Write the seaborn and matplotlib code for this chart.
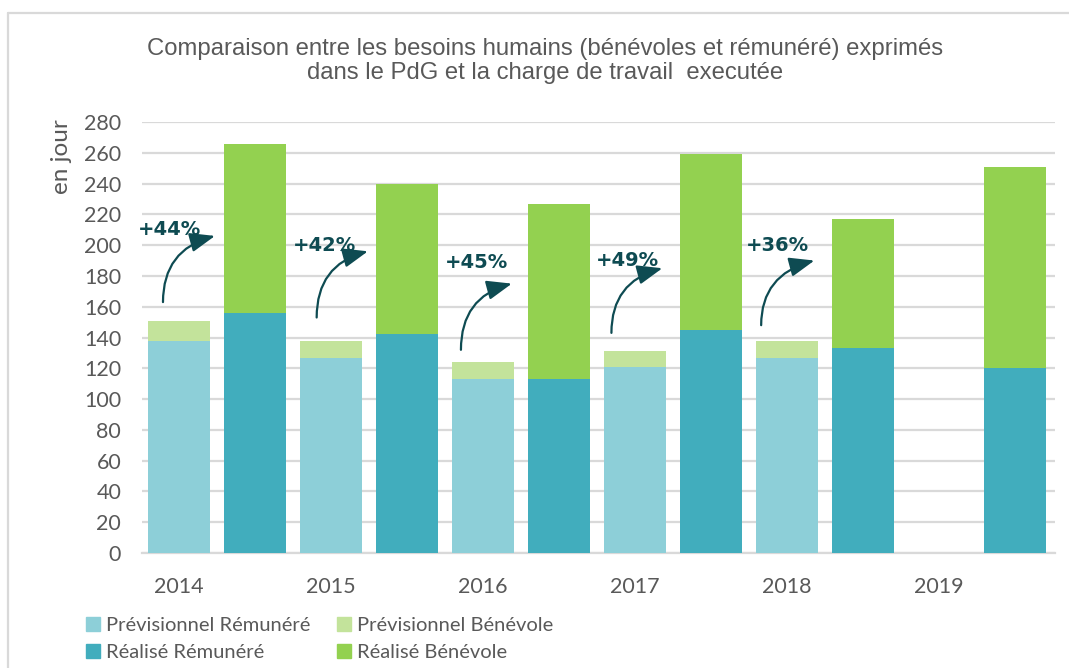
import seaborn as sns
import matplotlib.pyplot as plt
from matplotlib.lines import Line2D
from matplotlib.patches import Patch
import numpy as np

years = ["2014", "2015", "2016", "2017", "2018", "2019"]
prev_remunere = [138, 127, 113, 121, 127]
prev_benevole = [13, 11, 11, 10, 11]
real_remunere = [156, 142, 113, 145, 133, 120]
real_benevole = [110, 98, 114, 114, 84, 131]
hausse = ["+44%", "+42%", "+45%", "+49%", "+36%"]

# arrow layout per year: tail dx, tail y, head dx, head y, text y
arrows = [
    (-0.105, 163, 0.237, 206, 210),
    (-0.094, 153, 0.243, 196, 200),
    (-0.145, 132, 0.190, 175, 189),
    (-0.155, 143, 0.180, 185, 190),
    (-0.170, 148, 0.180, 190, 200),
]
text_dx = [-0.27, -0.25, -0.25, -0.26, -0.27]

c_prev_rem = "#8dcfd8"
c_prev_ben = "#c3e39b"
c_real_rem = "#41adbd"
c_real_ben = "#93d150"
teal = "#0e4b52"
grey = "#595959"
grid = "#d9d9d9"

sns.set_theme(style="white")
plt.rcParams["font.family"] = ["Lato", "DejaVu Sans"]

fig = plt.figure(figsize=(10.69, 6.68), dpi=100)
ax = fig.add_axes([142 / 1069, 1 - 553 / 668, 913 / 1069, 431 / 668])

x_prev = np.arange(len(prev_remunere), dtype=float)
x_real = np.arange(len(real_remunere), dtype=float) + 0.5
prev_total = np.add(prev_remunere, prev_benevole)
real_total = np.add(real_remunere, real_benevole)

w = 0.41
for x, y, c in [
    (x_prev, prev_total, c_prev_ben),
    (x_prev, prev_remunere, c_prev_rem),
    (x_real, real_total, c_real_ben),
    (x_real, real_remunere, c_real_rem),
]:
    sns.barplot(x=x, y=y, color=c, width=w, native_scale=True, saturation=1,
                linewidth=0, ax=ax, zorder=3)

ax.set_axisbelow(True)
ax.set_ylim(0, 280)
ax.set_yticks(range(0, 281, 20))
ax.yaxis.grid(True, color=grid, lw=1.6)
ax.xaxis.grid(False)
ax.set_xlim(-0.243, 5.763)
ax.set_xticks(np.arange(len(years)))
ax.set_xticklabels(years)
ax.set_xlabel("")
ax.set_ylabel("")
ax.tick_params(axis="both", length=0, labelsize=15.5, labelcolor=grey)
ax.tick_params(axis="y", pad=15)
ax.tick_params(axis="x", pad=17)
for s in ["top", "left", "right"]:
    ax.spines[s].set_visible(False)
ax.spines["bottom"].set_color(grid)
ax.spines["bottom"].set_linewidth(1.6)

for i, txt in enumerate(hausse):
    tdx, ty, hdx, hy, yt = arrows[i]
    ax.annotate("", xy=(i + hdx, hy), xytext=(i + tdx, ty),
                arrowprops=dict(arrowstyle="-|>,head_length=0.9,head_width=0.35",
                                connectionstyle="angle3,angleA=90,angleB=15",
                                color=teal, lw=1.6, mutation_scale=17,
                                shrinkA=0, shrinkB=0), zorder=5)
    ax.text(i + text_dx[i], yt, txt, ha="left", va="center", fontsize=14,
            fontweight="bold", color=teal, family="DejaVu Sans", zorder=6)

fig.text(545 / 1069, 1 - 61 / 668,
         "Comparaison entre les besoins humains (bénévoles et rémunéré) exprimés\n"
         "dans le PdG et la charge de travail  executée",
         ha="center", va="center", fontsize=17.2, color=grey,
         family=["Liberation Sans", "DejaVu Sans"], linespacing=1.15)

fig.text(62 / 1069, 1 - 157 / 668, "en jour", rotation=90, ha="center",
         va="center", fontsize=17.5, color=grey)

handles = [
    Patch(color=c_prev_rem, label="Prévisionnel Rémunéré"),
    Patch(color=c_real_rem, label="Réalisé Rémunéré"),
    Patch(color=c_prev_ben, label="Prévisionnel Bénévole"),
    Patch(color=c_real_ben, label="Réalisé Bénévole"),
]
leg = fig.legend(handles=handles, ncol=2, loc="upper left",
                 bbox_to_anchor=(86 / 1069, 1 - 617 / 668), frameon=False,
                 fontsize=14.5, handlelength=0.7, handleheight=0.7,
                 handletextpad=0.3, columnspacing=1.3, labelspacing=0.5,
                 borderpad=0, borderaxespad=0)
for t in leg.get_texts():
    t.set_color(grey)

fig.add_artist(Line2D([8 / 1069, 8 / 1069], [0, 1 - 13 / 668],
                      transform=fig.transFigure, color=grid, lw=1.6))
fig.add_artist(Line2D([8 / 1069, 1], [1 - 13 / 668, 1 - 13 / 668],
                      transform=fig.transFigure, color=grid, lw=1.6))

fig.savefig("out.png", dpi=100)
